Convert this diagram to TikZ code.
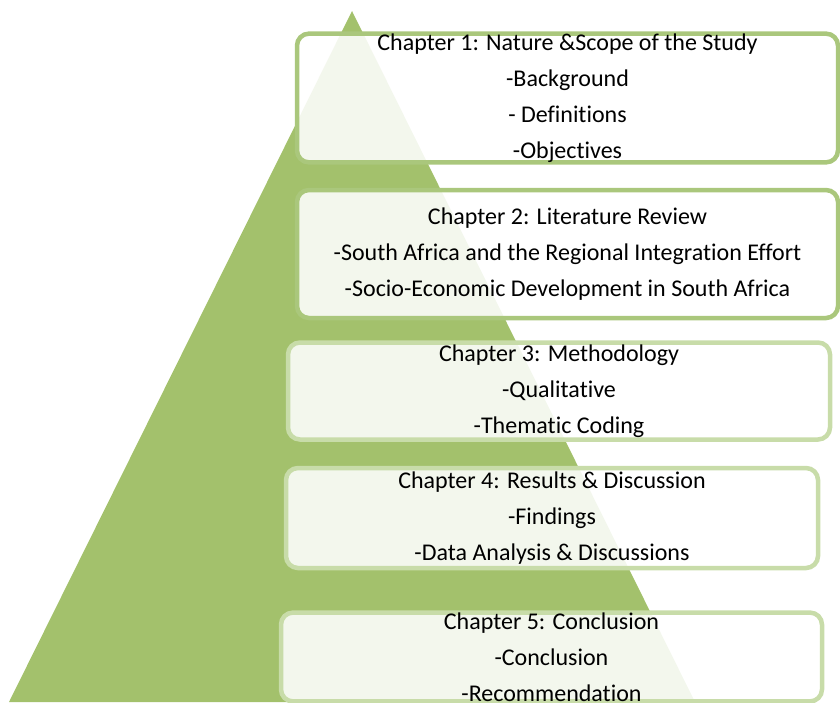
\documentclass[tikz,border=0pt]{standalone}
\usepackage{fontspec}
\setmainfont{Carlito}[Ligatures=CommonOff]
\definecolor{pyrgreen}{HTML}{A3C16C}
\definecolor{boxdark}{HTML}{AAC77C}
\definecolor{boxpale}{HTML}{C8DCA9}

\begin{document}
\begin{tikzpicture}
			[x=1pt,y=-1pt,every node/.style={rectangle,rounded corners=12pt,line width=4.5pt,fill=white,fill opacity=0.88,text opacity=1,align=center,font=\fontsize{24}{36}\selectfont,inner sep=0pt},
			chapbox/.style={draw=boxdark},
			chapboxpale/.style={draw=boxpale}]
			\useasboundingbox (0,0) rectangle (840,702);
			\fill[pyrgreen] (352,11) -- (695,702) -- (9,702) -- cycle;
			
			\node[chapbox, minimum width=541pt, minimum height=128pt] (c1) at (567.5,98) {Chapter 1: Nature \&Scope of the Study\\-Background\\- Definitions\\-Objectives};
			\node[chapbox, minimum width=541pt, minimum height=128pt] (c2) at (567.5,254) {Chapter 2: Literature Review\\-South Africa and the Regional Integration Effort\\-Socio-Economic Development in South Africa};
			\node[chapboxpale, minimum width=542pt, minimum height=97pt] (c3) at (559,391) {Chapter 3: Methodology\\-Qualitative\\-Thematic Coding};
			\node[chapboxpale, minimum width=532pt, minimum height=100pt] (c4) at (552,518) {Chapter 4: Results \& Discussion\\-Findings\\-Data Analysis \& Discussions};
			\node[chapboxpale, minimum width=541pt, minimum height=86pt] (c5) at (551.5,657) {Chapter 5: Conclusion\\-Conclusion\\-Recommendation};
			
			\end{tikzpicture}
\end{document}
